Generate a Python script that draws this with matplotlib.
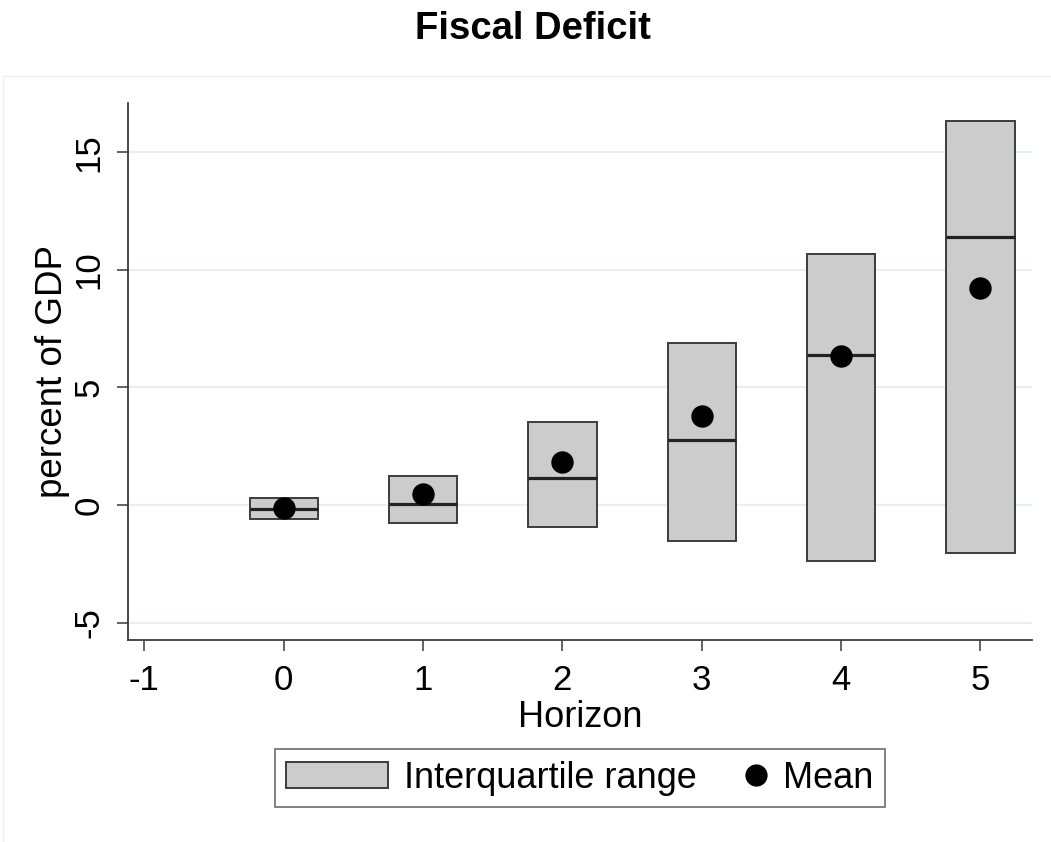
import matplotlib
matplotlib.use("Agg")
import matplotlib.pyplot as plt
from matplotlib.patches import Patch
from matplotlib.lines import Line2D
from matplotlib.legend_handler import HandlerBase
import numpy as np

# ---- data ----
horizon = [0, 1, 2, 3, 4, 5]
p25 = [-0.60, -0.77, -0.92, -1.51, -2.36, -2.02]
p75 = [0.29, 1.25, 3.53, 6.88, 10.66, 16.34]
median = [-0.17, 0.05, 1.17, 2.78, 6.38, 11.41]
mean = [-0.14, 0.47, 1.84, 3.80, 6.34, 9.24]
xticks = [-1, 0, 1, 2, 3, 4, 5]
yticks = [-5, 0, 5, 10, 15]

plt.rcParams['font.family'] = ['Liberation Sans', 'DejaVu Sans']

W, H = 1051, 842
fig = plt.figure(figsize=(W / 100, H / 100), dpi=100)
fig.patch.set_facecolor('white')

L, R, T, B = 128, 1032, 103, 640
ax = fig.add_axes([L / W, 1 - B / H, (R - L) / W, (B - T) / H])

h = np.array(horizon, dtype=float)
lo = np.array(p25)
hi = np.array(p75)
bw = 0.49

ax.bar(h, hi - lo, bottom=lo, width=bw, color='#cccccc', edgecolor='#3c3c3c',
       linewidth=1.4, zorder=3)
ax.hlines(median, h - bw / 2, h + bw / 2, colors='#222222', linewidth=2.3, zorder=4)
ax.scatter(h, mean, s=260, color='black', zorder=5, linewidths=0)

ax.set_xlim(-1.117, 5.37)
ax.set_ylim(-5.74, 17.1)
ax.set_xticks(xticks)
ax.set_xticklabels([str(v) for v in xticks])
ax.set_yticks(yticks)
ax.set_yticklabels([str(v) for v in yticks], rotation=90, va='center')

ax.grid(axis='y', color='#e6eff1', linewidth=1.5, zorder=0)
ax.set_axisbelow(True)

for s in ['top', 'right']:
    ax.spines[s].set_visible(False)
for s in ['left', 'bottom']:
    ax.spines[s].set_color('#3a3a3a')
    ax.spines[s].set_linewidth(1.3)

ax.tick_params(axis='both', direction='out', length=8, width=1.1, color='#3a3a3a',
               labelsize=25, labelcolor='black')
ax.tick_params(axis='x', pad=9)
ax.tick_params(axis='y', pad=8)

ax.set_ylabel('percent of GDP', fontsize=26.5, labelpad=2)

fig.text(580 / W, 1 - 727 / H, 'Horizon', fontsize=26, ha='center', va='baseline')

fig.text(533 / W, 1 - 39 / H, 'Fiscal Deficit', fontsize=27.5, fontweight='bold',
         ha='center', va='baseline',
         family=['Liberation Sans Narrow', 'Liberation Sans', 'DejaVu Sans'])

# faint outer graph-region border (top and left)
fig.add_artist(Line2D([3 / W, 1], [1 - 76 / H, 1 - 76 / H], transform=fig.transFigure,
                      color='#eeeeee', linewidth=1))
fig.add_artist(Line2D([3 / W, 3 / W], [0, 1 - 76 / H], transform=fig.transFigure,
                      color='#eeeeee', linewidth=1))


class RightDotHandler(HandlerBase):
    """Draw the mean marker at the right end of its legend slot."""
    def create_artists(self, legend, orig_handle, xdescent, ydescent,
                       width, height, fontsize, trans):
        ms = 16
        x = -xdescent + width - ms / 2
        y = -ydescent + height / 2
        art = Line2D([x], [y], marker='o', markersize=ms, color='black',
                     linestyle='none', markeredgewidth=0)
        art.set_transform(trans)
        return [art]


mean_handle = Line2D([], [], marker='o', linestyle='none', color='black')
handles = [Patch(facecolor='#cccccc', edgecolor='#3c3c3c', linewidth=1.4), mean_handle]
leg = fig.legend(handles, ['Interquartile range', 'Mean'], ncol=2,
                 loc='center', bbox_to_anchor=(580 / W, 1 - 778 / H),
                 fontsize=26, frameon=True, fancybox=False,
                 handlelength=2.8, handleheight=0.72, handletextpad=0.45,
                 columnspacing=-0.85, borderpad=0.32, borderaxespad=0,
                 handler_map={mean_handle: RightDotHandler()})
leg.get_frame().set_edgecolor('#555555')
leg.get_frame().set_linewidth(1.3)
for t in leg.get_texts():
    t.set_color('black')

fig.savefig('out.png', dpi=100, facecolor='white')
